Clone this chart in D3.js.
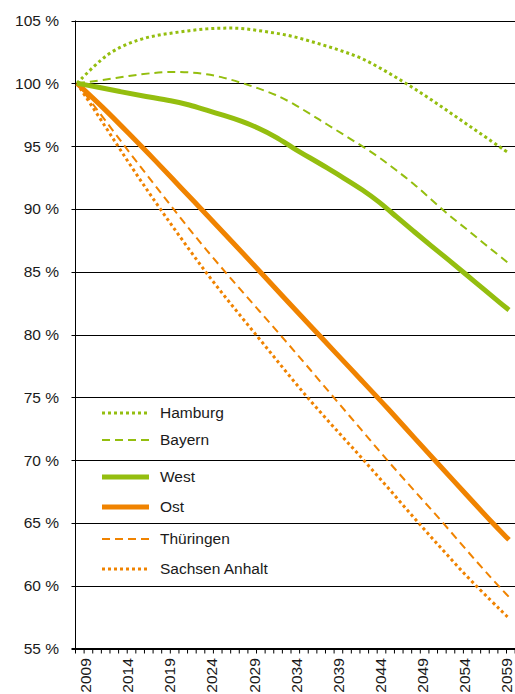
<!DOCTYPE html>
<html>
<head>
<meta charset="utf-8">
<script src="https://cdn.jsdelivr.net/npm/d3@7.9.0/dist/d3.min.js"></script>
<style>
  body { margin: 0; background: #fff; }
  svg { display: block; font-family: "Liberation Sans", Arial, sans-serif; }
</style>
</head>
<body>
<svg id="chart" width="515" height="694"></svg>
<script>
// Werte (in % von 2009)
const hamburg = [[2009,100],[2012,102.1],[2014,102.9],[2016,103.45],[2018,103.8],[2020,104.0],[2022,104.2],[2024,104.35],[2026,104.4],[2028,104.4],[2030,104.2],[2032,104.0],[2034,103.75],[2036,103.35],[2038,102.95],[2040,102.5],[2042,102.0],[2044,101.25],[2046,100.45],[2048,99.6],[2050,98.7],[2052,97.75],[2054,96.8],[2056,95.85],[2058,94.9],[2059,94.45]];
const bayern = [[2009,100],[2012,100.25],[2015,100.6],[2018,100.85],[2020,100.92],[2022,100.88],[2024,100.75],[2026,100.45],[2028,100.05],[2030,99.6],[2032,99.1],[2034,98.4],[2036,97.55],[2038,96.7],[2040,95.85],[2042,95.0],[2044,94.1],[2046,93.05],[2048,92.0],[2050,90.75],[2052,89.5],[2054,88.45],[2056,87.3],[2058,86.2],[2059,85.65]];
const west = [[2009,100],[2011,99.75],[2014,99.33],[2017,98.95],[2020,98.6],[2022,98.3],[2024,97.85],[2026,97.45],[2028,97.0],[2030,96.45],[2032,95.75],[2034,94.85],[2036,94.05],[2038,93.25],[2040,92.4],[2042,91.55],[2044,90.55],[2046,89.35],[2048,88.2],[2050,87.05],[2052,85.95],[2054,84.8],[2056,83.65],[2058,82.5],[2059,81.95]];
const ost = [[2009,100],[2012,98.1],[2015,96.0],[2018,93.9],[2021,91.7],[2024,89.55],[2027,87.35],[2030,85.15],[2033,82.9],[2036,80.7],[2039,78.5],[2042,76.3],[2045,74.1],[2048,71.8],[2051,69.55],[2054,67.3],[2057,65.05],[2059,63.65]];
const thueringen = [[2009,100],[2012,97.3],[2015,94.55],[2018,91.9],[2021,89.25],[2024,86.7],[2027,84.3],[2030,81.95],[2033,79.6],[2036,77.2],[2039,74.75],[2042,72.35],[2045,69.9],[2048,67.6],[2051,65.3],[2054,62.9],[2057,60.55],[2059,59.1]];
const sachsenAnhalt = [[2009,100],[2012,96.85],[2015,93.65],[2018,90.6],[2021,87.7],[2024,84.85],[2027,82.25],[2030,79.75],[2033,77.2],[2036,74.7],[2039,72.4],[2042,70.15],[2045,67.8],[2048,65.4],[2051,63.1],[2054,60.8],[2057,58.75],[2059,57.4]];

const yTicks = [55, 60, 65, 70, 75, 80, 85, 90, 95, 100, 105];
const yearLabels = [2009, 2014, 2019, 2024, 2029, 2034, 2039, 2044, 2049, 2054, 2059];

const GREEN = '#94be0f', ORANGE = '#f08300';

const series = [
  { name: 'Hamburg', data: hamburg, color: GREEN, width: 3, dash: '3,3' },
  { name: 'Bayern', data: bayern, color: GREEN, width: 2, dash: '8,5' },
  { name: 'West', data: west, color: GREEN, width: 5, dash: null },
  { name: 'Ost', data: ost, color: ORANGE, width: 5, dash: null },
  { name: 'Thüringen', data: thueringen, color: ORANGE, width: 2, dash: '8,5' },
  { name: 'Sachsen Anhalt', data: sachsenAnhalt, color: ORANGE, width: 3, dash: '3,3' }
];

const svg = d3.select('#chart');
const plotL = 75.5, plotR = 515, plotT = 20.5, plotB = 648.5;

const x = d3.scaleLinear().domain([2009, 2059]).range([77, 509]);
// Beschriftung der Jahre sitzt etwas anders als die Datenpunkte
const xLab = d3.scaleLinear().domain([2009, 2059]).range([85.5, 507]);
const y = d3.scaleLinear().domain([55, 105]).range([plotB, plotT]);

// Gitterlinien
svg.append('g')
  .selectAll('line').data(yTicks).join('line')
  .attr('x1', plotL - 4).attr('x2', plotR)
  .attr('y1', d => Math.round(y(d)) + 0.5).attr('y2', d => Math.round(y(d)) + 0.5)
  .attr('stroke', '#000').attr('stroke-width', 1);

// y-Achse
svg.append('line')
  .attr('x1', plotL).attr('x2', plotL).attr('y1', plotT).attr('y2', plotB)
  .attr('stroke', '#000');
svg.append('g')
  .selectAll('text').data(yTicks).join('text')
  .attr('x', 59).attr('y', d => y(d)).attr('dy', '0.35em')
  .attr('text-anchor', 'end').attr('font-size', 15.5).attr('fill', '#1a1a1a')
  .text(d => d + ' %');

// x-Achse mit Strichen je Jahr
const xAxis = svg.append('g').attr('transform', `translate(0,${plotB})`);
xAxis.append('line').attr('x1', plotL - 4).attr('x2', plotR).attr('stroke', '#000');
xAxis.selectAll('line.tick').data(d3.range(0, 52)).join('line')
  .attr('class', 'tick')
  .attr('x1', i => plotL + i * 8.62).attr('x2', i => plotL + i * 8.62)
  .attr('y1', 0).attr('y2', 5)
  .attr('stroke', '#000');
xAxis.selectAll('text').data(yearLabels).join('text')
  .attr('transform', d => `translate(${xLab(d)},${27}) rotate(-90)`)
  .attr('dy', '0.35em').attr('text-anchor', 'middle')
  .attr('font-size', 15.5).attr('fill', '#1a1a1a')
  .text(d => d);

// Linien
const line = d3.line()
  .x(d => x(d[0])).y(d => y(d[1]))
  .curve(d3.curveBasis);

const order = [5, 4, 1, 0, 3, 2];
svg.append('g').selectAll('path').data(order.map(i => series[i])).join('path')
  .attr('d', d => line(d.data))
  .attr('fill', 'none')
  .attr('stroke', d => d.color)
  .attr('stroke-width', d => d.width)
  .attr('stroke-dasharray', d => d.dash);

// Legende
const legendY = [413, 440, 477, 507, 539, 569];
const legend = svg.append('g').selectAll('g').data(series).join('g')
  .attr('transform', (d, i) => `translate(0,${legendY[i]})`);
legend.append('line')
  .attr('x1', 102).attr('x2', 149)
  .attr('stroke', d => d.color)
  .attr('stroke-width', d => d.width)
  .attr('stroke-dasharray', d => d.dash);
legend.append('text')
  .attr('x', 160).attr('dy', '0.35em')
  .attr('font-size', 15.5).attr('fill', '#1a1a1a')
  .text(d => d.name);
</script>
</body>
</html>
